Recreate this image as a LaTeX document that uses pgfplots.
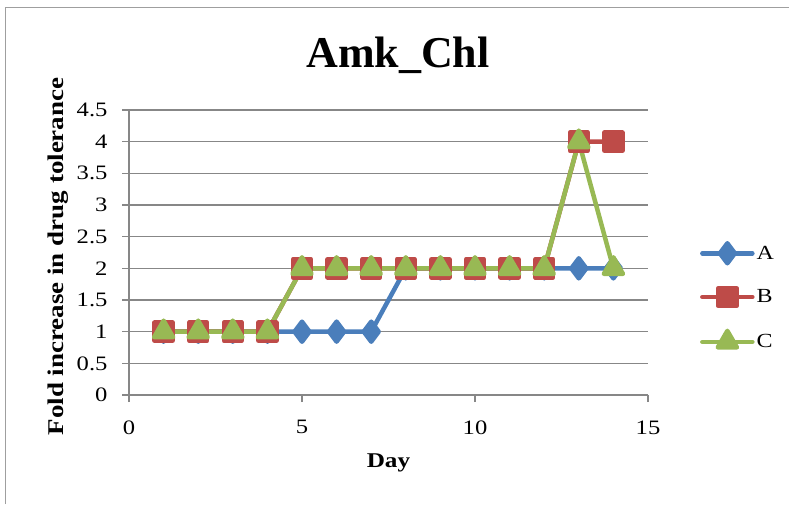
\documentclass[border=0pt]{standalone}
\usepackage{fontspec}
\setmainfont{Liberation Serif}
\usepackage{pgfplots}
\pgfplotsset{compat=1.18}
\definecolor{cA}{HTML}{4A7EBB}
\definecolor{cB}{HTML}{BE4B48}
\definecolor{cC}{HTML}{98B954}
\definecolor{gridc}{HTML}{878787}
\newfontfamily\widefont[FakeStretch=1.2]{Liberation Serif}
\begin{document}
\begin{tikzpicture}[x=1pt,y=1pt]
\useasboundingbox (0,0) rectangle (789,-504);
\draw[gridc!80, line width=1.2pt] (5.5,-504) -- (5.5,-7.5) -- (789,-7.5);
\node[font=\fontsize{44}{50}\selectfont\bfseries] at (398,-55) {Amk\_Chl};
\begin{axis}[
  at={(129pt,-395pt)}, anchor=south west,
  scale only axis, width=519pt, height=285pt,
  xmin=0, xmax=15, ymin=0, ymax=4.5,
  axis x line*=bottom, axis y line*=left,
  hide obscured x ticks=false, hide obscured y ticks=false,
  axis line style={gridc, line width=1.5pt},
  ymajorgrids, grid style={gridc, line width=1.2pt},
  tick style={gridc, line width=1.5pt}, tick align=outside, major tick length=7pt,
  xtick={0,5,10,15}, xticklabels={0,5,10,15},
  ytick={0,0.5,1,1.5,2,2.5,3,3.5,4,4.5},
  yticklabels={0,0.5,1,1.5,2,2.5,3,3.5,4,4.5},
  ticklabel style={font=\widefont\fontsize{20.5}{24}\selectfont},
  xticklabel style={yshift=-15pt},
  yticklabel style={xshift=-11pt},
  xlabel={Day},
  xlabel style={at={(axis description cs:0.5,0)}, anchor=center, yshift=-68pt, font=\widefont\fontsize{21}{25}\selectfont\bfseries},
  ylabel={Fold increase in drug tolerance},
  ylabel style={at={(axis description cs:0,0.5)}, anchor=center, rotate=0, yshift=71pt, xshift=-4pt, font=\widefont\fontsize{22.5}{26}\selectfont\bfseries},
  legend style={at={(axis description cs:1.1,0.343)}, anchor=west, draw=none, fill=none,
    font=\widefont\fontsize{20}{24}\selectfont, row sep=24.5pt, inner xsep=0pt},
  legend cell align=left,
  legend image code/.code={\draw[mark repeat=2, mark phase=2] plot coordinates {(0pt,0pt) (25pt,0pt) (50pt,0pt)};},
  every axis plot/.append style={line width=4.5pt, line join=round, line cap=round, mark options={solid}},
]
\addplot[cA, mark=diamond*, mark size=10pt] coordinates {
(1,1) (2,1) (3,1) (4,1) (5,1) (6,1) (7,1) (8,2) (9,2) (10,2) (11,2) (12,2) (13,2) (14,2)};
\addlegendentry{A}
\addplot[cB, mark=square*, mark size=9pt] coordinates {
(1,1) (2,1) (3,1) (4,1) (5,2) (6,2) (7,2) (8,2) (9,2) (10,2) (11,2) (12,2) (13,4) (14,4)};
\addlegendentry{B}
\addplot[cC, mark=triangle*, mark size=11pt] coordinates {
(1,1) (2,1) (3,1) (4,1) (5,2) (6,2) (7,2) (8,2) (9,2) (10,2) (11,2) (12,2) (13,4) (14,2)};
\addlegendentry{C}
\end{axis}
\end{tikzpicture}
\end{document}
